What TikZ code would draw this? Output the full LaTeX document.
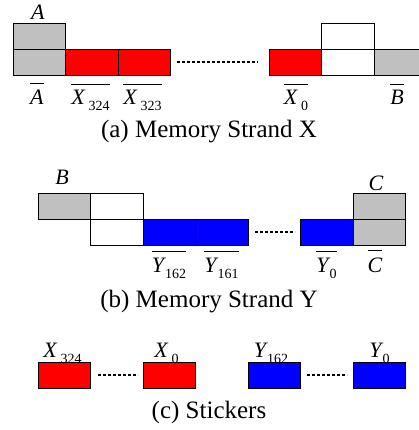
\documentclass[tikz,border=0pt]{standalone}
\usepackage{fontspec}
\setmainfont{Liberation Serif}
\newcommand\obar[1]{\setbox0=\hbox{#1}\vbox{\hrule height 1pt width \wd0\kern 6pt\box0}}
\newcommand\sbs[1]{\raisebox{-6pt}{\fontsize{14}{14}\selectfont\upshape #1}}
\definecolor{cgray}{HTML}{C0C0C0}
\definecolor{cred}{HTML}{FF0000}
\definecolor{cblue}{HTML}{0000FF}
\tikzset{
  cell/.style={draw=black, line width=0.8pt, minimum width=52.5pt, minimum height=26pt, inner sep=0pt, outer sep=0pt, anchor=north west},
  graycell/.style={cell, fill=cgray},
  redcell/.style={cell, fill=cred},
  bluecell/.style={cell, fill=cblue},
  whitecell/.style={cell, fill=white},
  dots/.style={line width=1.1pt, dash pattern=on 3pt off 2pt},
  lab/.style={anchor=base, inner sep=0pt, font=\fontsize{22}{24}\selectfont},
  captext/.style={anchor=base, inner sep=0pt, font=\fontsize{25}{28}\selectfont}
}
\begin{document}
\begin{tikzpicture}[x=1pt,y=-1pt]
\useasboundingbox (0,0) rectangle (419,430);
% ---- Strand X
\node[graycell] (xAt) at (13,23) {};
\node[graycell] (xAb) at (13,49) {};
\node[redcell] (x324) at (65.5,49) {};
\node[redcell] (x323) at (118,49) {};
\node[redcell] (x0) at (269,49) {};
\node[whitecell] (xwt) at (321.5,23) {};
\node[whitecell] (xwb) at (321.5,49) {};
\node[graycell] (xB) at (374,49) {};
\draw[dots] ([xshift=6pt]x323.east) -- ([xshift=-11pt]x0.west);
\node[lab] (lA) at (38,20) {\textit{A}};
\node[lab] (lAb) at (37,105) {\obar{\textit{A}}};
\node[lab] (lX324) at (90.5,105) {\obar{\textit{X}\kern3pt\sbs{324}}};
\node[lab] (lX323) at (142.5,105) {\obar{\textit{X}\kern3pt\sbs{323}}};
\node[lab] (lX0) at (296,105) {\obar{\textit{X}\kern3pt\sbs{0}}};
\node[lab] (lBb) at (397,105) {\obar{\textit{B}}};
\node[captext] (capa) at (209,138) {(a) Memory Strand X};
% ---- Strand Y
\node[graycell] (yB) at (38,193) {};
\node[whitecell] (ywt) at (90.5,193) {};
\node[whitecell] (ywb) at (90.5,219) {};
\node[bluecell] (y162) at (143,219) {};
\node[bluecell] (y161) at (195.5,219) {};
\node[bluecell] (y0) at (300.5,219) {};
\node[graycell] (yCt) at (353,193) {};
\node[graycell] (yCb) at (353,219) {};
\draw[dots] ([xshift=7pt]y161.east) -- ([xshift=-5.5pt]y0.west);
\node[lab] (lB) at (62,185) {\textit{B}};
\node[lab] (lC) at (376,190) {\textit{C}};
\node[lab] (lY162) at (169,272) {\obar{\textit{Y}\kern-1pt\sbs{162}}};
\node[lab] (lY161) at (221.5,272) {\obar{\textit{Y}\kern-1pt\sbs{161}}};
\node[lab] (lY0) at (326.5,272) {\obar{\textit{Y}\kern-1pt\sbs{0}}};
\node[lab] (lCb) at (375,272) {\obar{\textit{C}}};
\node[captext] (capb) at (209,307) {(b) Memory Strand Y};
% ---- Stickers
\node[redcell] (sx324) at (38,362) {};
\node[redcell] (sx0) at (143,362) {};
\node[bluecell] (sy162) at (248,362) {};
\node[bluecell] (sy0) at (353,362) {};
\draw[dots] ([xshift=7.5pt]sx324.east) -- ([xshift=-5pt]sx0.west);
\draw[dots] ([xshift=6.5pt]sy162.east) -- ([xshift=-6pt]sy0.west);
\node[lab] (sl1) at (62.5,357) {\textit{X}\kern3pt\sbs{324}};
\node[lab] (sl2) at (166.5,357) {\textit{X}\kern3pt\sbs{0}};
\node[lab] (sl3) at (271,357) {\textit{Y}\kern-1pt\sbs{162}};
\node[lab] (sl4) at (379.5,357) {\textit{Y}\kern-1pt\sbs{0}};
\node[captext] (capc) at (209,418) {(c) Stickers};
\end{tikzpicture}
\end{document}
